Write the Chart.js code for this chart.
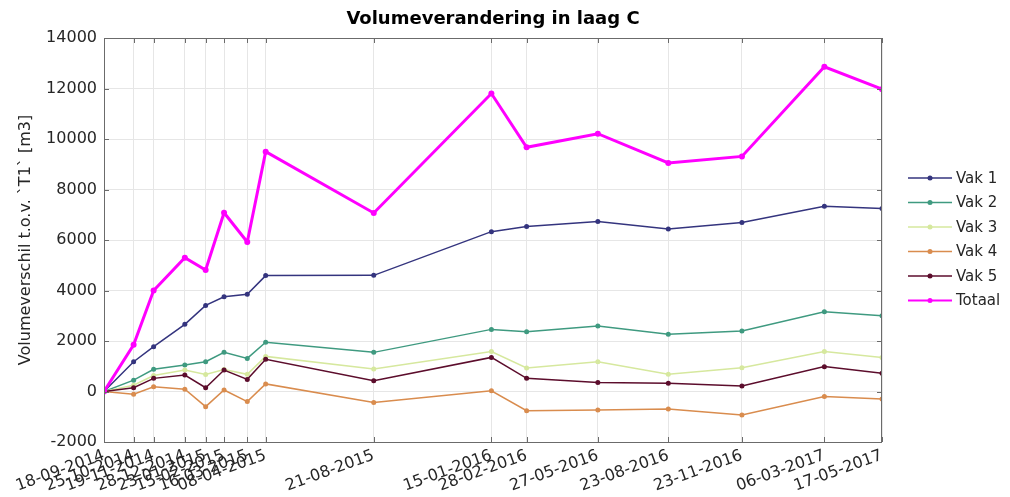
<!DOCTYPE html>
<html>
<head>
<meta charset="utf-8">
<script src="https://cdn.jsdelivr.net/npm/chart.js@4.4.1/dist/chart.umd.min.js"></script>
<style>
    html, body { margin: 0; padding: 0; background: #fff; }
    #wrap { width: 1010px; height: 497px; position: relative; }
</style>
</head>
<body>
<div id="wrap"><canvas id="volChart"></canvas></div>
<script>
// meetdata
const dates = ['18-09-2014', '25-10-2014', '19-11-2014', '28-12-2014', '23-01-2015', '15-02-2015', '16-03-2015', '08-04-2015',
    '21-08-2015', '15-01-2016', '28-02-2016', '27-05-2016', '23-08-2016', '23-11-2016', '06-03-2017', '17-05-2017'];
const vak1 = [0, 1180, 1775, 2660, 3410, 3750, 3850, 4590, 4600, 6330, 6530, 6730, 6440, 6690, 7340, 7250];
const vak2 = [0, 450, 880, 1050, 1180, 1550, 1310, 1950, 1550, 2460, 2370, 2590, 2265, 2400, 3160, 3000];
const vak3 = [0, 250, 630, 850, 670, 870, 680, 1390, 890, 1580, 930, 1180, 680, 945, 1580, 1350];
const vak4 = [0, -110, 190, 90, -600, 60, -400, 300, -440, 30, -760, -730, -690, -930, -200, -300];
const vak5 = [0, 150, 520, 650, 150, 850, 480, 1275, 430, 1350, 520, 360, 325, 220, 985, 720];
const totaal = [0, 1850, 4000, 5300, 4810, 7080, 5920, 9500, 7070, 11800, 9670, 10210, 9050, 9310, 12860, 11975];

const seriesNames = ['Vak 1', 'Vak 2', 'Vak 3', 'Vak 4', 'Vak 5', 'Totaal'];
const seriesValues = [vak1, vak2, vak3, vak4, vak5, totaal];
const seriesColors = ['#34347e', '#3f9a80', '#d6e89e', '#d98c4e', '#5c0d2c', '#ff00ff'];
const yTicks = [-2000, 0, 2000, 4000, 6000, 8000, 10000, 12000, 14000];

const FONT = 'DejaVu Sans';
const TXT = '#262626';

// dagen sinds de eerste meting
function dayOf(s) {
    const [d, m, y] = s.split('-').map(Number);
    const [d0, m0, y0] = dates[0].split('-').map(Number);
    return (Date.UTC(y, m - 1, d) - Date.UTC(y0, m0 - 1, d0)) / 86400000;
}
const xDays = dates.map(dayOf);

const datasets = seriesNames.map((name, i) => {
    const isTot = name === 'Totaal';
    return {
        label: name,
        data: xDays.map((x, j) => ({ x: x, y: seriesValues[i][j] })),
        borderColor: seriesColors[i],
        backgroundColor: seriesColors[i],
        borderWidth: isTot ? 3 : 1.5,
        pointRadius: isTot ? 3 : 2.5,
        pointBorderWidth: 0,
        tension: 0,
        order: seriesNames.length - i
    };
});

// kader, tickjes naar binnen, titel en legenda (MATLAB-stijl)
const matlabLook = {
    id: 'matlabLook',
    afterDraw(chart) {
        const ctx = chart.ctx;
        const a = chart.chartArea;
        const xs = chart.scales.x, ys = chart.scales.y;
        ctx.save();
        ctx.strokeStyle = '#6b6b6b';
        ctx.lineWidth = 1;
        ctx.strokeRect(a.left + 0.5, a.top + 0.5, a.right - a.left - 1, a.bottom - a.top);
        ctx.beginPath();
        xs.ticks.forEach(t => {
            const px = Math.round(xs.getPixelForValue(t.value)) + 0.5;
            ctx.moveTo(px, a.bottom); ctx.lineTo(px, a.bottom - 5);
            ctx.moveTo(px, a.top); ctx.lineTo(px, a.top + 5);
        });
        ys.ticks.forEach(t => {
            const py = Math.round(ys.getPixelForValue(t.value)) + 0.5;
            ctx.moveTo(a.left, py); ctx.lineTo(a.left + 5, py);
            ctx.moveTo(a.right, py); ctx.lineTo(a.right - 5, py);
        });
        ctx.stroke();

        // titel
        ctx.fillStyle = '#000';
        ctx.font = 'bold 18px "' + FONT + '"';
        ctx.textAlign = 'center';
        ctx.textBaseline = 'middle';
        ctx.fillText('Volumeverandering in laag C', (a.left + a.right) / 2, 19);

        // legenda
        ctx.font = '15px "' + FONT + '"';
        ctx.textAlign = 'left';
        chart.data.datasets.forEach((ds, i) => {
            const y = 178 + i * 24.5;
            ctx.strokeStyle = ds.borderColor;
            ctx.lineWidth = ds.label === 'Totaal' ? 2 : 1.5;
            ctx.beginPath();
            ctx.moveTo(908, y); ctx.lineTo(952, y);
            ctx.stroke();
            ctx.fillStyle = ds.borderColor;
            ctx.beginPath();
            ctx.arc(930, y, 2.5, 0, Math.PI * 2);
            ctx.fill();
            ctx.fillStyle = TXT;
            ctx.fillText(ds.label, 956, y + 1);
        });
        ctx.restore();
    }
};

new Chart(document.getElementById('volChart'), {
    type: 'line',
    data: { datasets: datasets },
    plugins: [matlabLook],
    options: {
        responsive: true,
        maintainAspectRatio: false,
        animation: false,
        layout: { padding: { top: 38, right: 128, bottom: 0, left: 0 } },
        plugins: {
            legend: { display: false },
            title: { display: false },
            tooltip: { enabled: false }
        },
        scales: {
            x: {
                type: 'linear',
                min: xDays[0],
                max: xDays[xDays.length - 1],
                afterBuildTicks: s => { s.ticks = xDays.map(v => ({ value: v })); },
                afterFit: s => { s.height = 55; s.paddingLeft = 0; s.paddingRight = 0; },
                ticks: {
                    autoSkip: false,
                    minRotation: 20,
                    maxRotation: 20,
                    padding: 4,
                    color: TXT,
                    font: { family: FONT, size: 16 },
                    callback: (v, i) => dates[i]
                },
                grid: { color: '#e6e6e6', drawTicks: false },
                border: { display: false }
            },
            y: {
                min: yTicks[0],
                max: yTicks[yTicks.length - 1],
                afterBuildTicks: s => { s.ticks = yTicks.map(v => ({ value: v })); },
                afterFit: s => { s.width = 104; s.paddingTop = 0; s.paddingBottom = 0; },
                ticks: {
                    padding: 7,
                    color: TXT,
                    font: { family: FONT, size: 16 },
                    callback: v => String(v)
                },
                grid: { color: '#e6e6e6', drawTicks: false },
                border: { display: false },
                title: {
                    display: true,
                    text: 'Volumeverschil t.o.v. `T1` [m3]',
                    color: TXT,
                    font: { family: FONT, size: 16 },
                    padding: { top: 16, bottom: 0 }
                }
            }
        }
    }
});
</script>
</body>
</html>
